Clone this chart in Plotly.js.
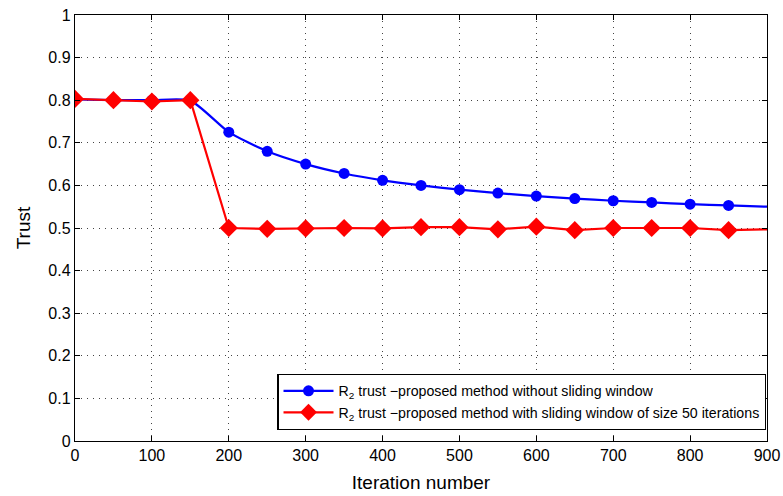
<!DOCTYPE html>
<html><head><meta charset="utf-8">
<script src="https://cdn.plot.ly/plotly-3.0.1.min.js"></script>
<style>html,body{margin:0;padding:0;background:#fff}</style>
</head><body>
<div id="chart" style="width:783px;height:496px"></div>
<script>
const iterations = [0,50,100,150,200,250,300,350,400,450,500,550,600,650,700,750,800,850,900];
const trustNoWindow = [0.802,0.800,0.800,0.799,0.725,0.680,0.650,0.628,0.612,0.600,0.590,0.582,0.575,0.569,0.564,0.560,0.556,0.553,0.550];
const trustWindow = [0.803,0.800,0.797,0.800,0.500,0.498,0.499,0.500,0.499,0.502,0.502,0.497,0.503,0.495,0.500,0.500,0.500,0.495,0.497];
const markerIterNoWindow = iterations.slice(0, 18);
const markerIterWindow = iterations.slice(0, 18);
const seriesNames = [
  "R<sub>2</sub> trust \u2212proposed method without sliding window",
  "R<sub>2</sub> trust \u2212proposed method with sliding window of size 50 iterations"
];
const xTicks = [0,100,200,300,400,500,600,700,800,900];
const yTicks = [0,0.1,0.2,0.3,0.4,0.5,0.6,0.7,0.8,0.9,1];
const yTickText = ["0","0.1","0.2","0.3","0.4","0.5","0.6","0.7","0.8","0.9","1"];

const traces = [
  {x: iterations, y: trustNoWindow, name: seriesNames[0], mode: 'lines', line:{color:'#0000ff', width:2.2, shape:'spline', smoothing:0.6}, showlegend:false},
  {x: markerIterNoWindow, y: trustNoWindow.slice(0,18), mode:'markers', marker:{color:'#0000ff', size:11, symbol:'circle'}, showlegend:false, hoverinfo:'skip'},
  {x: iterations, y: trustWindow, name: seriesNames[1], mode: 'lines', line:{color:'#ff0000', width:2.2}, showlegend:false},
  {x: markerIterWindow, y: trustWindow.slice(0,18), mode:'markers', marker:{color:'#ff0000', size:14, symbol:'diamond'}, showlegend:false, hoverinfo:'skip'},
  {x:[null], y:[null], name: seriesNames[0], mode:'lines+markers', line:{color:'#0000ff', width:2.2}, marker:{color:'#0000ff', size:11, symbol:'circle'}},
  {x:[null], y:[null], name: seriesNames[1], mode:'lines+markers', line:{color:'#ff0000', width:2.2}, marker:{color:'#ff0000', size:13, symbol:'diamond'}}
];

const axisCommon = {
  showline:true, linecolor:'#000', linewidth:1.2, mirror:'ticks',
  ticks:'inside', ticklen:5, tickcolor:'#000', tickwidth:1,
  showgrid:true, gridcolor:'#444', griddash:'1px,5px', gridwidth:1,
  zeroline:false, tickfont:{family:'Liberation Sans, Arial, sans-serif', size:16, color:'#000'}
};

const layout = {
  width:783, height:496,
  margin:{l:75, r:16, t:15, b:55},
  paper_bgcolor:'#fff', plot_bgcolor:'#fff',
  font:{family:'Liberation Sans, Arial, sans-serif', color:'#000'},
  xaxis: Object.assign({}, axisCommon, {range:[0,900], tickvals:xTicks, ticktext:xTicks.map(String),
    title:{text:'Iteration number', font:{size:19, color:'#000'}, standoff:12}}),
  yaxis: Object.assign({}, axisCommon, {range:[0,1], tickvals:yTicks, ticktext:yTickText,
    title:{text:'Trust', font:{size:19, color:'#000'}, standoff:12}}),
  legend:{x:0.999, xanchor:'right', y:0.026, yanchor:'bottom', bgcolor:'#fff', bordercolor:'#000', borderwidth:1.2,
    font:{size:14.2, color:'#000'}, tracegroupgap:0, itemwidth:50},
  showlegend:true
};
Plotly.newPlot('chart', traces, layout, {displayModeBar:false, staticPlot:true});
</script>
</body></html>
